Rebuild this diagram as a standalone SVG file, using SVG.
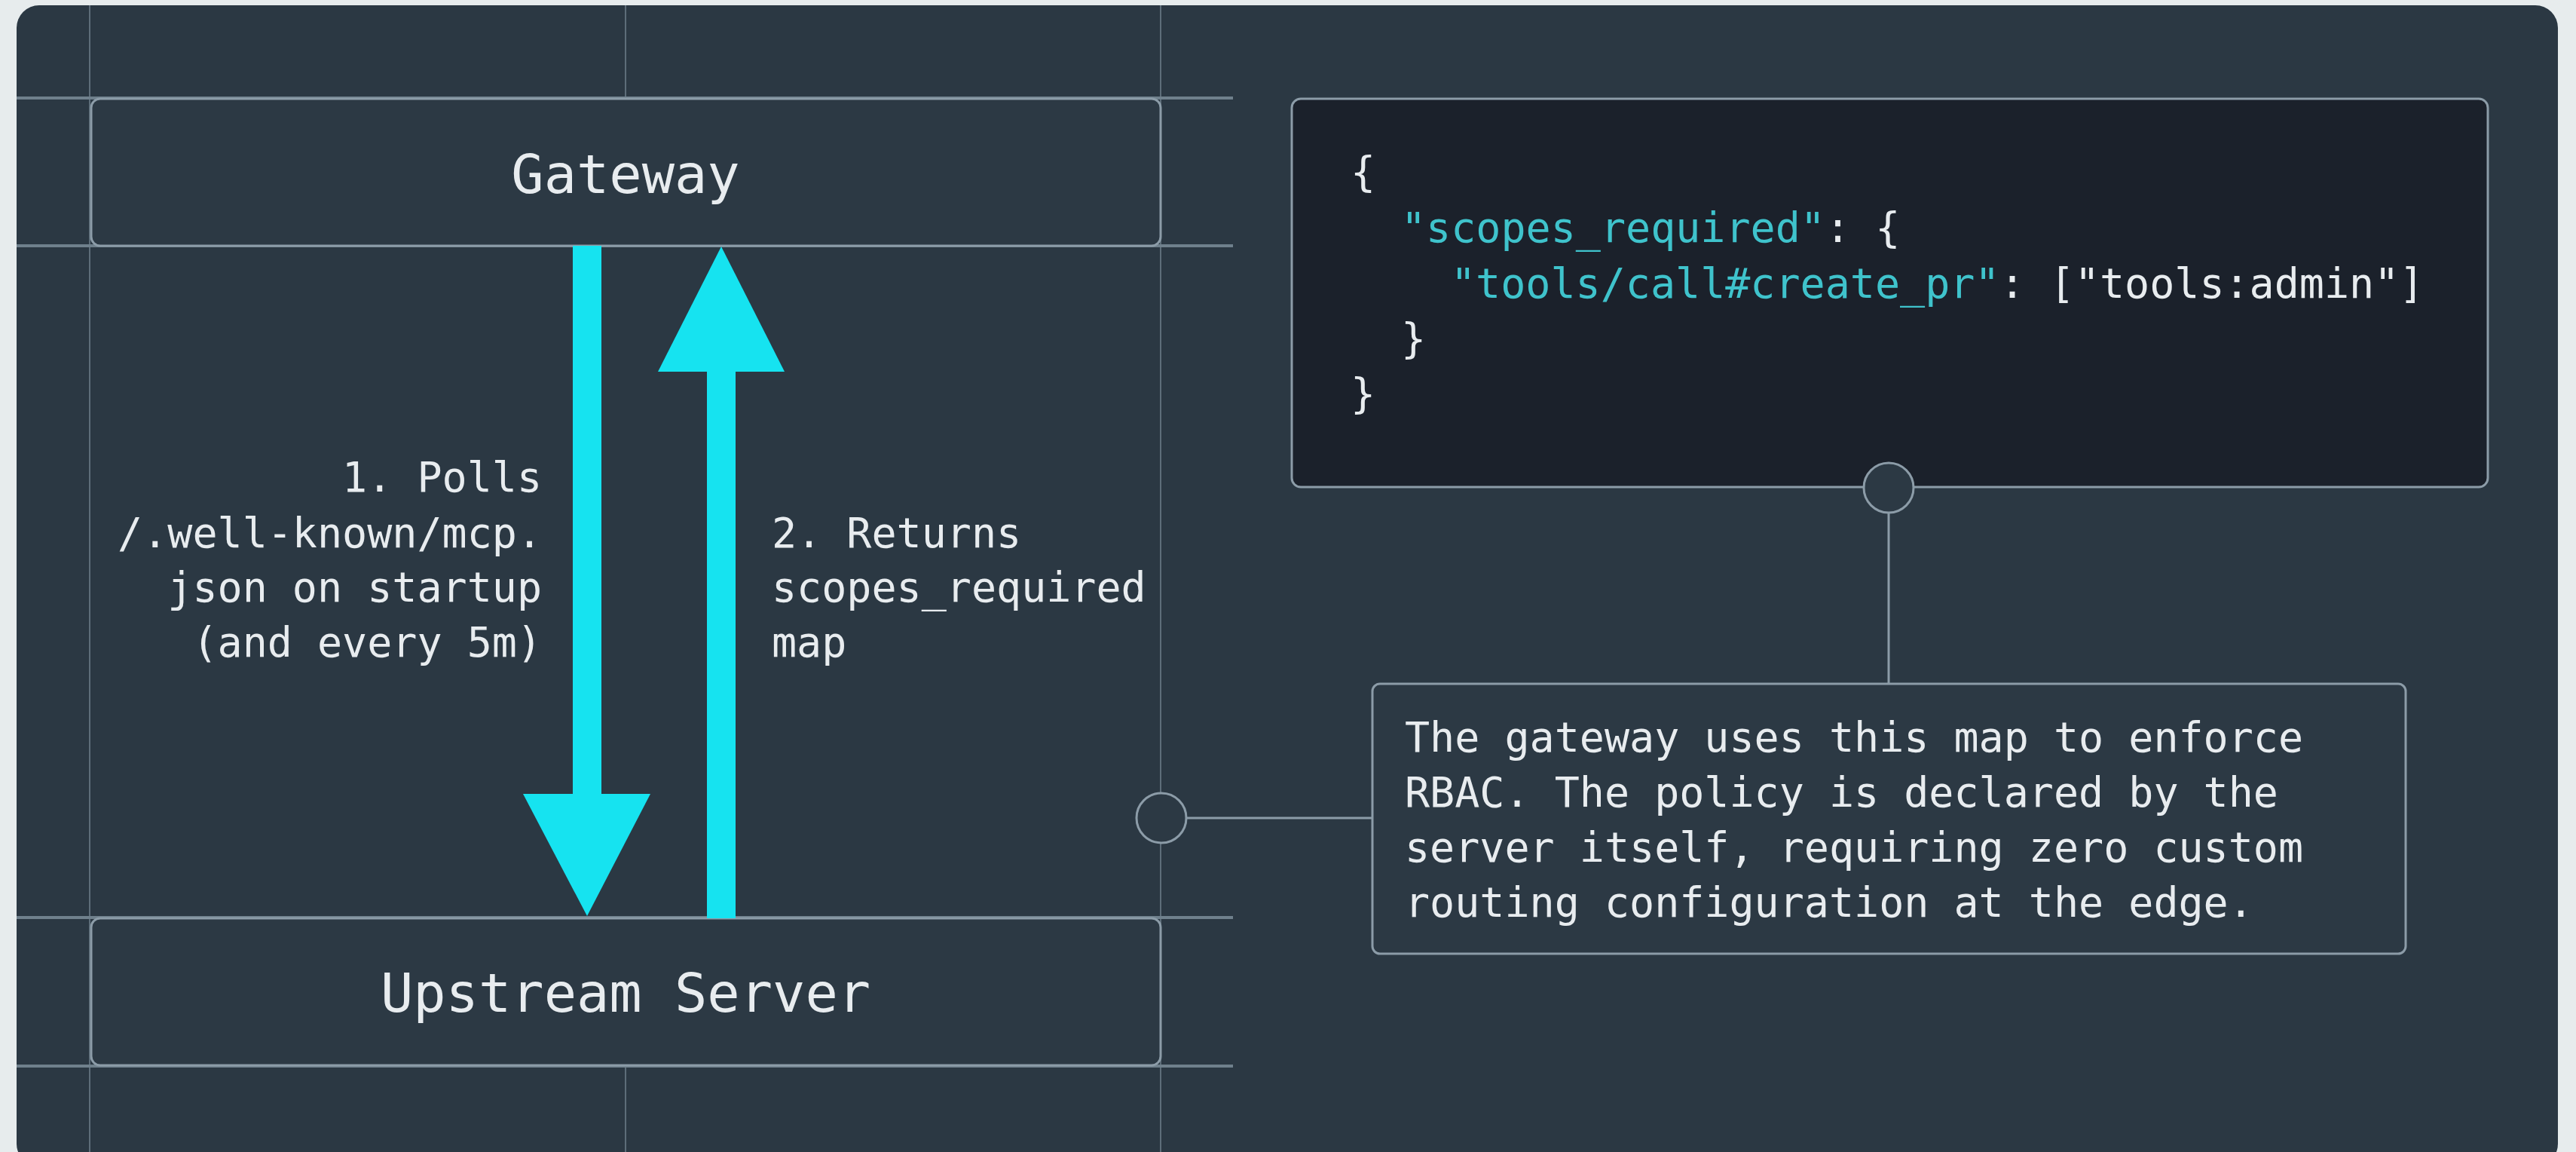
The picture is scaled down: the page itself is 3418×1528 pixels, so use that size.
<svg xmlns="http://www.w3.org/2000/svg" width="3418" height="1528" viewBox="0 0 3418 1528">
  <style>
    .grid { stroke: #5d6d79; stroke-width: 2; fill: none; }
    .hgrid { stroke: #6f808c; stroke-width: 4; fill: none; }
    .box { fill: #2c3944; stroke: #8c9ca8; stroke-width: 3; }
    .code { fill: #1b212b; stroke: #8c9ca8; stroke-width: 3; }
    .mono { font-family: "DejaVu Sans Mono", "Liberation Mono", monospace; fill: #e8ecef; }
    .title { font-size: 72px; text-anchor: middle; }
    .lbl { font-size: 55px; }
    .key { fill: #3fc3cc; }
    .arrow { fill: #16e3f0; }
    .conn { stroke: #8c9ca8; stroke-width: 3; fill: none; }
    .dot { fill: #2c3944; stroke: #8c9ca8; stroke-width: 3; }
  </style>
  <rect x="0" y="0" width="3418" height="1528" fill="#e7eced"/>
  <rect x="22" y="7" width="3372" height="1540" rx="30" fill="#2b3843"/>

  <g id="grid">
    <line class="grid" x1="119" y1="7" x2="119" y2="1528"/>
    <line class="grid" x1="1540" y1="7" x2="1540" y2="1528"/>
    <line class="grid" x1="830" y1="7" x2="830" y2="131"/>
    <line class="grid" x1="830" y1="1413" x2="830" y2="1528"/>
    <line class="hgrid" x1="22" y1="130" x2="1636" y2="130"/>
    <line class="hgrid" x1="22" y1="326" x2="1636" y2="326"/>
    <line class="hgrid" x1="22" y1="1217" x2="1636" y2="1217"/>
    <line class="hgrid" x1="22" y1="1414" x2="1636" y2="1414"/>
  </g>

  <g id="gateway">
    <rect class="box" x="121" y="131" width="1419" height="195" rx="12"/>
    <text class="mono title" x="830" y="256">Gateway</text>
  </g>

  <g id="upstream">
    <rect class="box" x="121" y="1218" width="1419" height="195" rx="12"/>
    <text class="mono title" x="830" y="1342">Upstream Server</text>
  </g>

  <g id="code-panel">
    <rect class="code" x="1714" y="131" width="1587" height="515" rx="12"/>
    <text class="mono lbl" x="1792" y="247">{</text>
    <text class="mono lbl" x="1859" y="321"><tspan class="key">"scopes_required"</tspan>: {</text>
    <text class="mono lbl" x="1925" y="395"><tspan class="key">"tools/call#create_pr"</tspan>: ["tools:admin"]</text>
    <text class="mono lbl" x="1859" y="468">}</text>
    <text class="mono lbl" x="1792" y="541">}</text>
  </g>

  <g id="note">
    <rect class="box" x="1821" y="907" width="1371" height="358" rx="10"/>
    <text class="mono lbl" x="1864" y="997">The gateway uses this map to enforce</text>
    <text class="mono lbl" x="1864" y="1070">RBAC. The policy is declared by the</text>
    <text class="mono lbl" x="1864" y="1143">server itself, requiring zero custom</text>
    <text class="mono lbl" x="1864" y="1216">routing configuration at the edge.</text>
  </g>

  <g id="connectors">
    <g id="poll-arrow">
      <rect class="arrow" x="760" y="326" width="38" height="730"/>
      <polygon class="arrow" points="694,1053 863,1053 779,1215"/>
    </g>
    <g id="return-arrow">
      <rect class="arrow" x="938" y="490" width="38" height="728"/>
      <polygon class="arrow" points="873,493 1041,493 957,327"/>
    </g>
    <text class="mono lbl" text-anchor="end" x="719" y="652">1. Polls</text>
    <text class="mono lbl" text-anchor="end" x="719" y="726">/.well-known/mcp.</text>
    <text class="mono lbl" text-anchor="end" x="719" y="798">json on startup</text>
    <text class="mono lbl" text-anchor="end" x="719" y="871">(and every 5m)</text>
    <text class="mono lbl" x="1024" y="726">2. Returns</text>
    <text class="mono lbl" x="1024" y="798">scopes_required</text>
    <text class="mono lbl" x="1024" y="871">map</text>
    <line class="conn" x1="2506" y1="680" x2="2506" y2="907"/>
    <circle class="dot" cx="2506" cy="647" r="33"/>
    <line class="conn" x1="1574" y1="1085" x2="1821" y2="1085"/>
    <circle class="dot" cx="1541" cy="1085" r="33"/>
  </g>
</svg>
